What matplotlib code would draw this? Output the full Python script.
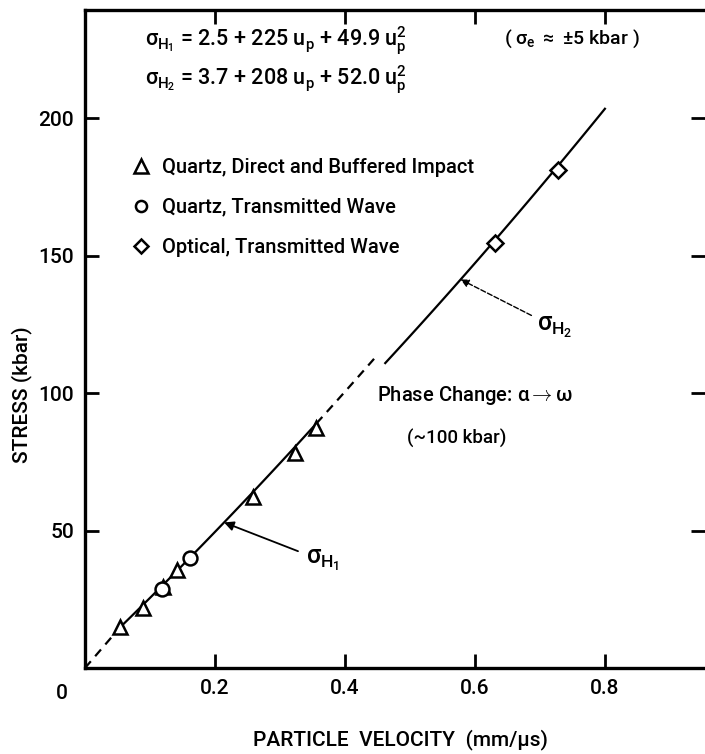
import numpy as np
import matplotlib.pyplot as plt
from matplotlib.lines import Line2D

plt.rcParams["font.family"] = ["Roboto", "DejaVu Sans"]
plt.rcParams["font.weight"] = "medium"
plt.rcParams["mathtext.fontset"] = "custom"
plt.rcParams["mathtext.rm"] = "Roboto:medium"
plt.rcParams["mathtext.it"] = "Roboto:medium"
plt.rcParams["mathtext.sf"] = "Roboto:medium"

# Hugoniot fits: sigma = a + b*up + c*up^2  (kbar, up in mm/us)
H1 = (2.5, 225.0, 49.9)
H2 = (3.7, 208.0, 52.0)

# measured points (particle velocity, stress)
tri_u = [0.054, 0.089, 0.120, 0.141, 0.258, 0.323, 0.356]
tri_s = [14.9, 21.8, 29.5, 35.6, 62.2, 78.2, 87.2]
circ_u = [0.118, 0.162]
circ_s = [28.7, 40.0]
diam_u = [0.631, 0.728]
diam_s = [154.5, 181.1]

xticks = [0.2, 0.4, 0.6, 0.8]
yticks = [50, 100, 150, 200]


def hugoniot(coef, u):
    a, b, c = coef
    return a + b * u + c * u ** 2


fig = plt.figure(figsize=(7.05, 7.54), dpi=100)
ax = fig.add_axes([85 / 705, 86 / 754, 620 / 705, 658 / 754])
ax.set_xlim(0, 0.954)
ax.set_ylim(0, 239.3)

# fitted curves: solid where fitted, dashed extrapolations
u1 = np.linspace(tri_u[0], tri_u[-1], 100)
ax.plot(u1, hugoniot(H1, u1), color="black", lw=1.6)
ax.plot([0, tri_u[0]], [0, hugoniot(H1, tri_u[0])], color="black", lw=1.6,
        ls=(0, (4, 3)))
u_mid = np.linspace(tri_u[-1], 0.45, 40)
ax.plot(u_mid, hugoniot(H1, u_mid), color="black", lw=1.6, ls=(0, (4, 3)))
u2 = np.linspace(0.462, 0.80, 100)
ax.plot(u2, hugoniot(H2, u2), color="black", lw=1.6)

mk = dict(ls="none", mfc="white", mec="black", mew=1.8, ms=10)
ax.plot(tri_u, tri_s, marker="^", **mk)
ax.plot(circ_u, circ_s, marker="o", **mk)
ax.plot(diam_u, diam_s, marker="D", **dict(mk, ms=8))

# legend
handles = [
    Line2D([], [], marker="^", **mk),
    Line2D([], [], marker="o", **dict(mk, ms=8)),
    Line2D([], [], marker="D", **dict(mk, ms=7)),
]
labels = ["Quartz, Direct and Buffered Impact", "Quartz, Transmitted Wave",
          "Optical, Transmitted Wave"]
ax.legend(handles, labels, loc="upper left", bbox_to_anchor=(0.065, 0.788),
          frameon=False, fontsize=14.5, handlelength=0.8, handletextpad=0.6,
          labelspacing=1.05, borderaxespad=0)

# fit equations
ax.text(0.092, 228, r"$\sigma_{H_1}$ = 2.5 + 225 u$_p$ + 49.9 u$_p^2$",
        fontsize=15.5, va="center")
ax.text(0.092, 214, r"$\sigma_{H_2}$ = 3.7 + 208 u$_p$ + 52.0 u$_p^2$",
        fontsize=15.5, va="center")
ax.text(0.645, 229, r"( $\sigma_e$ $\approx$ $\pm$5 kbar )", fontsize=14,
        va="center")

# curve labels
ax.annotate(r"$\sigma_{H_2}$", xy=(0.578, hugoniot(H2, 0.578)),
            xytext=(0.695, 124), fontsize=18, va="center",
            arrowprops=dict(arrowstyle="-|>", color="black", lw=1.0, ls="--",
                            shrinkA=2, shrinkB=0, mutation_scale=12))
ax.annotate(r"$\sigma_{H_1}$", xy=(0.214, hugoniot(H1, 0.214)),
            xytext=(0.34, 39), fontsize=18, va="center",
            arrowprops=dict(arrowstyle="-|>", color="black", lw=1.3,
                            shrinkA=4, shrinkB=0, mutation_scale=14))

ax.text(0.45, 99, r"Phase Change: $\alpha \rightarrow \omega$", fontsize=14.5,
        va="center")
ax.text(0.572, 83.5, "(~100 kbar)", fontsize=13.5, va="center", ha="center")

# axes styling
for side in ["left", "bottom", "top"]:
    ax.spines[side].set_linewidth(2.4)
ax.spines["right"].set_visible(False)
ax.set_xticks(xticks)
ax.set_xticklabels(["0.2", "0.4", "0.6", "0.8"], fontsize=15)
ax.set_yticks(yticks)
ax.set_yticklabels(["50", "100", "150", "200"], fontsize=15)
ax.tick_params(direction="in", length=10, width=2.0, top=True, right=True,
               pad=8)
ax.text(-0.035, -6, "0", fontsize=15, ha="center", va="top")

fig.text(400 / 705, 1 - 740 / 754, "PARTICLE  VELOCITY  (mm/\u03bcs)",
         fontsize=15, ha="center", va="center")
fig.text(22 / 705, 1 - 395 / 754, "STRESS (kbar)", fontsize=15, rotation=90,
         ha="center", va="center")

fig.savefig("out.png", dpi=100)
